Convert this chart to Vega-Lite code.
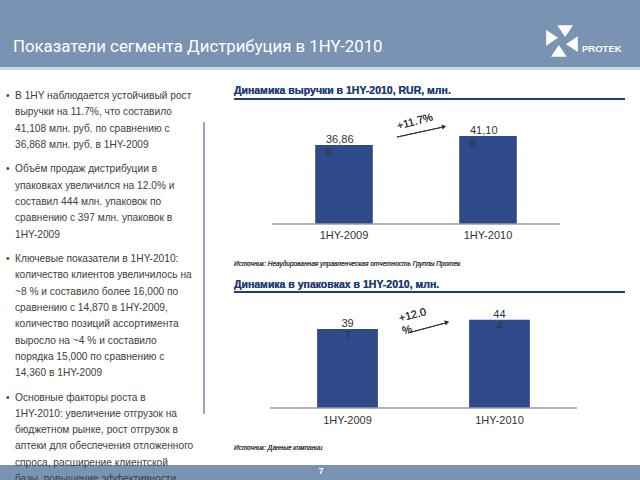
{
  "$schema": "https://vega.github.io/schema/vega-lite/v6.json",
  "width": 640,
  "height": 480,
  "autosize": {"type": "none"},
  "padding": 0,
  "background": "white",
  "config": {"view": {"stroke": null}, "font": "Liberation Sans"},
  "datasets": {
    "one": [{}],
    "lines": [
      {"n": 0, "t": "В 1HY наблюдается устойчивый рост", "b": true},
      {"n": 1, "t": "выручки на 11.7%, что составило", "b": false},
      {"n": 2, "t": "41,108 млн. руб. по сравнению с", "b": false},
      {"n": 3, "t": "36,868 млн. руб. в 1HY-2009", "b": false},
      {"n": 4.5, "t": "Объём продаж дистрибуции  в", "b": true},
      {"n": 5.5, "t": "упаковках увеличился на 12.0% и", "b": false},
      {"n": 6.5, "t": "составил 444 млн. упаковок по", "b": false},
      {"n": 7.5, "t": "сравнению с 397 млн. упаковок в", "b": false},
      {"n": 8.5, "t": "1HY-2009", "b": false},
      {"n": 10, "t": "Ключевые показатели в 1HY-2010:", "b": true},
      {"n": 11, "t": "количество клиентов увеличилось на", "b": false},
      {"n": 12, "t": "~8 % и составило более 16,000 по", "b": false},
      {"n": 13, "t": "сравнению с 14,870 в 1HY-2009,", "b": false},
      {"n": 14, "t": "количество позиций ассортимента", "b": false},
      {"n": 15, "t": "выросло на ~4 % и составило", "b": false},
      {"n": 16, "t": "порядка 15,000 по сравнению с", "b": false},
      {"n": 17, "t": "14,360 в 1HY-2009", "b": false},
      {"n": 18.5, "t": "Основные факторы роста в", "b": true},
      {"n": 19.5, "t": "1HY-2010: увеличение отгрузок на", "b": false},
      {"n": 20.5, "t": "бюджетном рынке, рост отгрузок  в", "b": false},
      {"n": 21.5, "t": "аптеки для обеспечения отложенного", "b": false},
      {"n": 22.5, "t": "спроса, расширение клиентской", "b": false},
      {"n": 23.5, "t": "базы, повышение эффективности", "b": false}
    ],
    "revenue": [
      {"period": "1HY-2009", "value": 36868, "label": "36,86\n8"},
      {"period": "1HY-2010", "value": 41108, "label": "41,10\n8"}
    ],
    "packs": [
      {"period": "1HY-2009", "value": 397, "label": "39\n7"},
      {"period": "1HY-2010", "value": 444, "label": "44\n4"}
    ]
  },
  "resolve": {"scale": {"x": "independent", "y": "independent"}},
  "layer": [
    {
      "data": {"name": "one"},
      "mark": {"type": "rect", "fill": "#7a93b3"},
      "encoding": {"x": {"value": 0}, "x2": {"value": 640}, "y": {"value": 0}, "y2": {"value": 67}}
    },
    {
      "data": {"name": "one"},
      "mark": {"type": "rect", "fill": "#c9dbe0"},
      "encoding": {"x": {"value": 0}, "x2": {"value": 640}, "y": {"value": 67}, "y2": {"value": 70}}
    },
    {
      "data": {"name": "one"},
      "mark": {"type": "rect", "fill": "#7a93b3"},
      "encoding": {"x": {"value": 0}, "x2": {"value": 640}, "y": {"value": 465}, "y2": {"value": 480}}
    },
    {
      "data": {"name": "one"},
      "mark": {"type": "text", "text": "Показатели сегмента Дистрибуция в 1HY-2010", "font": "Roboto", "fontSize": 16.8, "color": "white", "align": "left", "baseline": "middle"},
      "encoding": {"x": {"value": 13}, "y": {"value": 47}}
    },
    {
      "data": {"name": "one"},
      "mark": {"type": "point", "shape": "M -0.3 -1 L 0.7 -1 L 0.2 -0.25 Z M 1 -0.3 L 1 0.7 L 0.25 0.2 Z M 0.3 1 L -0.7 1 L -0.2 0.25 Z M -1 0.3 L -1 -0.7 L -0.25 -0.2 Z", "filled": true, "fill": "white", "opacity": 1, "size": 1000, "strokeWidth": 0},
      "encoding": {"x": {"value": 562}, "y": {"value": 41}}
    },
    {
      "data": {"name": "one"},
      "mark": {"type": "text", "text": "PROTEK", "fontSize": 9.5, "fontWeight": "bold", "color": "white", "align": "left", "baseline": "middle"},
      "encoding": {"x": {"value": 582}, "y": {"value": 49}}
    },
    {
      "data": {"name": "one"},
      "mark": {"type": "text", "text": "7", "fontSize": 9, "fontWeight": "bold", "color": "white", "align": "center", "baseline": "middle"},
      "encoding": {"x": {"value": 321}, "y": {"value": 471}}
    },
    {
      "data": {"name": "one"},
      "mark": {"type": "rule", "stroke": "#7f86ad", "strokeWidth": 1.5},
      "encoding": {"x": {"value": 204}, "y": {"value": 122}, "y2": {"value": 414}}
    },
    {
      "data": {"name": "lines"},
      "layer": [
        {
          "mark": {"type": "text", "align": "left", "baseline": "middle", "fontSize": 10.2, "color": "#404040"},
          "encoding": {
            "x": {"value": 15},
            "y": {"field": "n", "type": "quantitative", "axis": null, "scale": {"domain": [0, 23.5], "range": [96, 479.05], "nice": false, "zero": false}},
            "text": {"field": "t"}
          }
        },
        {
          "transform": [{"filter": "datum.b"}],
          "mark": {"type": "text", "text": "•", "align": "left", "baseline": "middle", "fontSize": 10.2, "color": "#404040"},
          "encoding": {
            "x": {"value": 6},
            "y": {"field": "n", "type": "quantitative", "axis": null}
          }
        }
      ]
    },
    {
      "data": {"name": "revenue"},
      "layer": [
        {
          "mark": {"type": "bar", "color": "#2f4a8b"},
          "encoding": {
            "x": {"field": "period", "type": "nominal", "axis": null, "scale": {"range": [272, 560], "paddingInner": 0.6, "paddingOuter": 0.3}},
            "y": {"field": "value", "type": "quantitative", "axis": null, "scale": {"domain": [0, 50000], "range": [224, 117], "nice": false}}
          }
        },
        {
          "mark": {"type": "text", "align": "left", "baseline": "alphabetic", "lineBreak": "\n", "lineHeight": 13, "fontSize": 11, "color": "#333333", "xOffset": -18, "yOffset": -2},
          "encoding": {
            "x": {"field": "period", "type": "nominal"},
            "y": {"field": "value", "type": "quantitative"},
            "text": {"field": "label"}
          }
        },
        {
          "mark": {"type": "text", "align": "center", "baseline": "middle", "fontSize": 11, "color": "#333333", "yOffset": 12},
          "encoding": {
            "x": {"field": "period", "type": "nominal"},
            "y": {"datum": 0, "type": "quantitative"},
            "text": {"field": "period"}
          }
        },
        {
          "mark": {"type": "rule", "stroke": "#999999", "strokeWidth": 1},
          "encoding": {"x": {"value": 272}, "x2": {"value": 560}, "y": {"datum": 0, "type": "quantitative"}}
        },
        {
          "mark": {"type": "rule", "stroke": "#333333", "strokeWidth": 1},
          "encoding": {"x": {"value": 397}, "x2": {"value": 443}, "y": {"datum": 40635, "type": "quantitative"}, "y2": {"datum": 45300}}
        },
        {
          "mark": {"type": "point", "shape": "triangle-right", "filled": true, "color": "#333333", "opacity": 1, "size": 22, "angle": -13},
          "encoding": {"x": {"value": 444}, "y": {"datum": 45500, "type": "quantitative"}}
        },
        {
          "mark": {"type": "text", "text": "+11.7%", "align": "center", "baseline": "middle", "fontSize": 11, "color": "#333333", "angle": -15},
          "encoding": {"x": {"value": 415}, "y": {"value": 122}}
        },
        {
          "mark": {"type": "text", "text": "Динамика выручки в 1HY-2010, RUR, млн.", "align": "left", "baseline": "middle", "fontSize": 10.5, "fontWeight": "bold", "color": "#1f3c78"},
          "encoding": {"x": {"value": 234}, "y": {"value": 91}}
        },
        {
          "mark": {"type": "rule", "stroke": "#1f3c78", "strokeWidth": 2},
          "encoding": {"x": {"value": 234}, "x2": {"value": 625}, "y": {"value": 99}}
        },
        {
          "mark": {"type": "text", "text": "Источник: Неаудированная управленческая отчетность Группы Протек", "align": "left", "baseline": "middle", "fontSize": 6.5, "fontStyle": "italic", "color": "#333333"},
          "encoding": {"x": {"value": 234}, "y": {"value": 264}}
        }
      ]
    },
    {
      "data": {"name": "packs"},
      "layer": [
        {
          "mark": {"type": "bar", "color": "#2f4a8b"},
          "encoding": {
            "x": {"field": "period", "type": "nominal", "axis": null, "scale": {"range": [270, 577], "paddingInner": 0.6, "paddingOuter": 0.31}},
            "y": {"field": "value", "type": "quantitative", "axis": null, "scale": {"domain": [0, 500], "range": [408, 308.5], "nice": false}}
          }
        },
        {
          "mark": {"type": "text", "align": "center", "baseline": "alphabetic", "lineBreak": "\n", "lineHeight": 12, "fontSize": 11, "color": "#333333", "yOffset": -2},
          "encoding": {
            "x": {"field": "period", "type": "nominal"},
            "y": {"field": "value", "type": "quantitative"},
            "text": {"field": "label"}
          }
        },
        {
          "mark": {"type": "text", "align": "center", "baseline": "middle", "fontSize": 11, "color": "#333333", "yOffset": 13},
          "encoding": {
            "x": {"field": "period", "type": "nominal"},
            "y": {"datum": 0, "type": "quantitative"},
            "text": {"field": "period"}
          }
        },
        {
          "mark": {"type": "rule", "stroke": "#999999", "strokeWidth": 1},
          "encoding": {"x": {"value": 270}, "x2": {"value": 577}, "y": {"datum": 0, "type": "quantitative"}}
        },
        {
          "mark": {"type": "rule", "stroke": "#333333", "strokeWidth": 1},
          "encoding": {"x": {"value": 408}, "x2": {"value": 446}, "y": {"datum": 377, "type": "quantitative"}, "y2": {"datum": 428}}
        },
        {
          "mark": {"type": "point", "shape": "triangle-right", "filled": true, "color": "#333333", "opacity": 1, "size": 22, "angle": -15},
          "encoding": {"x": {"value": 447}, "y": {"datum": 431, "type": "quantitative"}}
        },
        {
          "mark": {"type": "text", "text": "+12.0\n%", "lineBreak": "\n", "lineHeight": 13, "align": "left", "baseline": "alphabetic", "fontSize": 11, "color": "#333333", "angle": -15},
          "encoding": {"x": {"value": 400}, "y": {"value": 322}}
        },
        {
          "mark": {"type": "text", "text": "Динамика в упаковках в 1HY-2010, млн.", "align": "left", "baseline": "middle", "fontSize": 10.5, "fontWeight": "bold", "color": "#1f3c78"},
          "encoding": {"x": {"value": 234}, "y": {"value": 285}}
        },
        {
          "mark": {"type": "rule", "stroke": "#1f3c78", "strokeWidth": 2},
          "encoding": {"x": {"value": 234}, "x2": {"value": 625}, "y": {"value": 292}}
        },
        {
          "mark": {"type": "text", "text": "Источник: Данные компании", "align": "left", "baseline": "middle", "fontSize": 6.5, "fontStyle": "italic", "color": "#333333"},
          "encoding": {"x": {"value": 234}, "y": {"value": 448}}
        }
      ]
    }
  ]
}
